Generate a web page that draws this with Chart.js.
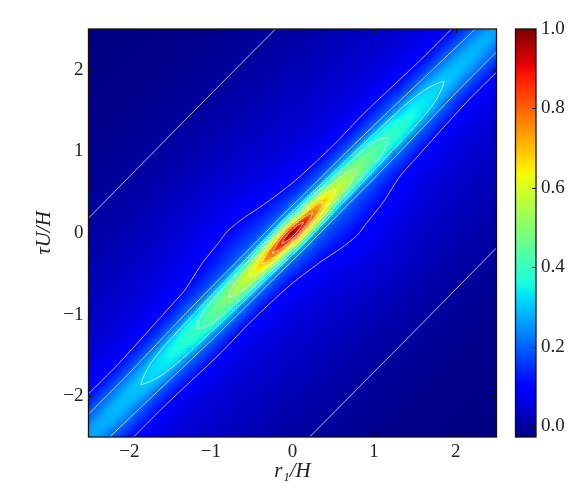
<!DOCTYPE html>
<html>
<head>
<meta charset="utf-8">
<title>Correlation map</title>
<script src="https://cdn.jsdelivr.net/npm/chart.js@4"></script>
<style>
    body { margin: 0; background: #fff; }
    #wrap { position: relative; width: 586px; height: 503px; }
    canvas { position: absolute; top: 0; }
    #mapChart { left: 0; }
    #barChart { left: 500px; }
</style>
</head>
<body>
<div id="wrap">
    <canvas id="mapChart" width="586" height="503"></canvas>
    <canvas id="barChart" width="86" height="503"></canvas>
</div>
<script>
const xTicks = [-2, -1, 0, 1, 2];
const yTicks = [-2, -1, 0, 1, 2];
const barTicks = [0, 0.2, 0.4, 0.6, 0.8, 1];
const valueMin = -0.027;
const valueMax = 1;

// Field read off the colours and contours, in ridge coordinates:
// along = (x + y) / 2, offset = y - x. The map is point symmetric, so only offset >= 0 is kept.
const alongStations = [-2.5, -1.86, -1.17, -0.785, -0.53, -0.38, -0.25, -0.135, 0, 0.135, 0.25, 0.38, 0.53, 0.785, 1.17, 1.86, 2.5];
const offsetStations = [0, 0.05, 0.1, 0.15, 0.2, 0.25, 0.3, 0.4, 0.5, 0.6, 0.7, 0.8, 1, 1.3, 1.7, 2.2, 2.7, 3.5, 5];
const fieldRows = [
    [0.27, 0.265, 0.255, 0.24, 0.22, 0.205, 0.187, 0.15, 0.117, 0.095, 0.08, 0.07, 0.052, 0.04, 0.028, 0.012, 0, -0.015, -0.027],
    [0.3, 0.298, 0.29, 0.27, 0.25, 0.225, 0.195, 0.155, 0.12, 0.09, 0.078, 0.068, 0.052, 0.04, 0.028, 0.012, 0, -0.015, -0.027],
    [0.4, 0.395, 0.38, 0.355, 0.315, 0.264, 0.218, 0.17, 0.133, 0.1, 0.085, 0.075, 0.058, 0.044, 0.03, 0.013, 0, -0.015, -0.027],
    [0.5, 0.49, 0.465, 0.425, 0.35, 0.285, 0.232, 0.175, 0.145, 0.125, 0.105, 0.09, 0.07, 0.05, 0.033, 0.014, 0, -0.015, -0.027],
    [0.6, 0.575, 0.54, 0.46, 0.385, 0.294, 0.235, 0.178, 0.155, 0.132, 0.113, 0.1, 0.08, 0.056, 0.036, 0.015, 0, -0.015, -0.027],
    [0.7, 0.65, 0.6, 0.51, 0.4, 0.3, 0.238, 0.18, 0.157, 0.135, 0.116, 0.102, 0.082, 0.058, 0.037, 0.015, 0, -0.015, -0.027],
    [0.8, 0.76, 0.66, 0.555, 0.445, 0.325, 0.247, 0.181, 0.157, 0.135, 0.116, 0.1, 0.08, 0.057, 0.037, 0.015, 0, -0.015, -0.027],
    [0.9, 0.83, 0.71, 0.585, 0.455, 0.335, 0.252, 0.182, 0.156, 0.132, 0.112, 0.096, 0.075, 0.054, 0.036, 0.015, 0, -0.015, -0.027],
    [1, 0.89, 0.76, 0.615, 0.475, 0.35, 0.26, 0.183, 0.155, 0.128, 0.1, 0.09, 0.07, 0.052, 0.035, 0.015, 0, -0.015, -0.027],
    [0.9, 0.83, 0.71, 0.585, 0.455, 0.335, 0.252, 0.178, 0.145, 0.118, 0.095, 0.083, 0.065, 0.05, 0.034, 0.015, 0, -0.015, -0.027],
    [0.8, 0.76, 0.66, 0.555, 0.445, 0.325, 0.247, 0.178, 0.14, 0.11, 0.09, 0.08, 0.063, 0.048, 0.033, 0.014, 0, -0.015, -0.027],
    [0.7, 0.65, 0.6, 0.51, 0.4, 0.3, 0.238, 0.175, 0.14, 0.105, 0.088, 0.078, 0.06, 0.046, 0.032, 0.014, 0, -0.015, -0.027],
    [0.6, 0.575, 0.54, 0.46, 0.385, 0.294, 0.235, 0.175, 0.14, 0.1, 0.085, 0.075, 0.058, 0.045, 0.031, 0.013, 0, -0.015, -0.027],
    [0.5, 0.49, 0.465, 0.425, 0.35, 0.285, 0.232, 0.171, 0.13, 0.095, 0.082, 0.072, 0.055, 0.043, 0.03, 0.013, 0, -0.015, -0.027],
    [0.4, 0.395, 0.38, 0.355, 0.315, 0.264, 0.218, 0.17, 0.133, 0.097, 0.082, 0.07, 0.053, 0.042, 0.029, 0.012, 0, -0.015, -0.027],
    [0.3, 0.298, 0.29, 0.27, 0.25, 0.225, 0.195, 0.155, 0.12, 0.09, 0.078, 0.068, 0.052, 0.04, 0.028, 0.012, 0, -0.015, -0.027],
    [0.27, 0.265, 0.255, 0.24, 0.22, 0.205, 0.187, 0.15, 0.117, 0.095, 0.08, 0.07, 0.052, 0.04, 0.028, 0.012, 0, -0.015, -0.027]
];

// Contours as [along, offset]
const contourZero = [[-1.3, 2.68], [0, 2.7], [1.3, 2.71]];
const contourTenth = [[-2.6, 0.56], [-2.2, 0.53], [-1.86, 0.53], [-1.17, 0.6], [-1.01, 0.62], [-0.74, 0.735], [-0.52, 0.785], [-0.38, 0.82], [-0.2, 0.78], [0, 0.7], [0.33, 0.61], [0.8, 0.575], [1.17, 0.59], [1.9, 0.55], [2.6, 0.56]];
const contourTwoTenths = [[-2.6, 0.28], [-2.36, 0.28], [-1.86, 0.285], [-1.17, 0.32], [-0.785, 0.33], [-0.53, 0.33], [-0.25, 0.335], [0, 0.34], [0.25, 0.335], [0.53, 0.33], [0.785, 0.33], [1.17, 0.32], [1.86, 0.285], [2.37, 0.26], [2.6, 0.26]];
// Closed contours: half widths for along >= 0, mirrored when drawn
const closedContours = [
    [[0, 0.27], [0.53, 0.245], [0.785, 0.235], [1.17, 0.21], [1.45, 0.19], [1.67, 0.14], [1.8, 0.06], [1.86, 0]],
    [[0, 0.23], [0.25, 0.22], [0.53, 0.19], [0.785, 0.165], [1.03, 0.13], [1.12, 0.07], [1.17, 0]],
    [[0, 0.19], [0.25, 0.175], [0.4, 0.15], [0.53, 0.125], [0.64, 0.1], [0.74, 0.05], [0.785, 0]],
    [[0, 0.155], [0.135, 0.145], [0.25, 0.13], [0.38, 0.1], [0.48, 0.06], [0.53, 0]],
    [[0, 0.12], [0.135, 0.105], [0.25, 0.08], [0.34, 0.04], [0.38, 0]],
    [[0, 0.085], [0.135, 0.065], [0.21, 0.03], [0.25, 0]],
    [[0, 0.045], [0.08, 0.03], [0.135, 0]]
];

const jetRed = [[0, 0], [0.35, 0], [0.66, 1], [0.89, 1], [1, 0.5]];
const jetGreen = [[0, 0], [0.125, 0], [0.375, 1], [0.64, 1], [0.91, 0], [1, 0]];
const jetBlue = [[0, 0.5], [0.11, 1], [0.34, 1], [0.65, 0], [1, 0]];

const cellSize = 0.025; // about 2px, like the blocks in the reference image
const tickFont = { family: '"Liberation Serif", serif', size: 19 };
const titleFont = { family: '"Liberation Serif", serif', size: 21, style: 'italic' };
const textColor = '#222';

function channel(stops, t) {
    for (let i = 1; i < stops.length; i++) {
        if (t <= stops[i][0]) {
            const f = (t - stops[i - 1][0]) / (stops[i][0] - stops[i - 1][0]);
            return stops[i - 1][1] + f * (stops[i][1] - stops[i - 1][1]);
        }
    }
    return stops[stops.length - 1][1];
}

function jetColor(t) {
    t = Math.max(0, Math.min(1, t));
    const r = Math.round(channel(jetRed, t) * 255);
    const g = Math.round(channel(jetGreen, t) * 255);
    const b = Math.round(channel(jetBlue, t) * 255);
    return 'rgb(' + r + ',' + g + ',' + b + ')';
}

function stationIndex(stations, v) {
    let i = 0;
    while (i < stations.length - 2 && v > stations[i + 1]) i++;
    return i;
}

// Looks up the table for one image cell
function fieldAt(x, y) {
    let along = (x + y) / 2;
    let offset = y - x;
    if (offset < 0) {
        along = -along;
        offset = -offset;
    }
    const i = stationIndex(alongStations, along);
    const j = stationIndex(offsetStations, offset);
    const u = (along - alongStations[i]) / (alongStations[i + 1] - alongStations[i]);
    const v = (offset - offsetStations[j]) / (offsetStations[j + 1] - offsetStations[j]);
    const a = fieldRows[i][j] + v * (fieldRows[i][j + 1] - fieldRows[i][j]);
    const b = fieldRows[i + 1][j] + v * (fieldRows[i + 1][j + 1] - fieldRows[i + 1][j]);
    return a + u * (b - a);
}

function toXY(p) {
    return { x: p[0] - p[1] / 2, y: p[0] + p[1] / 2 };
}

function reflect(p) {
    return [-p[0], -p[1]];
}

function lineDataset(points, tension) {
    return {
        data: points.map(toXY),
        showLine: true,
        borderColor: 'rgba(255,255,255,0.7)',
        borderWidth: 1,
        pointRadius: 0,
        tension: tension
    };
}

const datasets = [];
[contourZero, contourTenth, contourTwoTenths].forEach(c => {
    datasets.push(lineDataset(c, 0.25));
    datasets.push(lineDataset(c.map(reflect), 0.25));
});
closedContours.forEach(half => {
    const back = half.slice(1).map(p => [-p[0], p[1]]).reverse();
    const upper = back.concat(half);
    const lower = upper.slice(0, -1).map(reflect);
    datasets.push(lineDataset(upper.concat(lower, [upper[0]]), 0.25));
});

// Paints the heat map under the contours
const heatPlugin = {
    id: 'heat',
    beforeDatasetsDraw(chart) {
        const { ctx, chartArea, scales } = chart;
        ctx.save();
        ctx.beginPath();
        ctx.rect(chartArea.left, chartArea.top, chartArea.right - chartArea.left, chartArea.bottom - chartArea.top);
        ctx.clip();
        for (let x = scales.x.min; x < scales.x.max - 1e-6; x += cellSize) {
            const left = Math.round(scales.x.getPixelForValue(x));
            const right = Math.round(scales.x.getPixelForValue(x + cellSize));
            for (let y = scales.y.min; y < scales.y.max - 1e-6; y += cellSize) {
                const top = Math.round(scales.y.getPixelForValue(y + cellSize));
                const bottom = Math.round(scales.y.getPixelForValue(y));
                const value = fieldAt(x + cellSize / 2, y + cellSize / 2);
                ctx.fillStyle = jetColor((value - valueMin) / (valueMax - valueMin));
                ctx.fillRect(left, top, right - left, bottom - top);
            }
        }
        ctx.restore();
    }
};

// Inward ticks and the dark frame
const framePlugin = {
    id: 'frame',
    afterDraw(chart) {
        const { ctx, chartArea, scales } = chart;
        const a = chartArea;
        ctx.save();
        ctx.strokeStyle = '#111';
        ctx.lineWidth = 1;
        ctx.beginPath();
        if (scales.x && scales.x.options.display !== false) {
            scales.x.ticks.forEach(t => {
                const px = Math.round(scales.x.getPixelForValue(t.value)) + 0.5;
                ctx.moveTo(px, a.bottom);
                ctx.lineTo(px, a.bottom - 4);
                ctx.moveTo(px, a.top);
                ctx.lineTo(px, a.top + 4);
            });
        }
        scales.y.ticks.forEach(t => {
            const py = Math.round(scales.y.getPixelForValue(t.value)) + 0.5;
            if (chart.canvas.id === 'mapChart') {
                ctx.moveTo(a.left, py);
                ctx.lineTo(a.left + 4, py);
            }
            ctx.moveTo(a.right, py);
            ctx.lineTo(a.right - 4, py);
        });
        ctx.stroke();
        ctx.lineWidth = 1.3;
        ctx.strokeRect(a.left, a.top, a.right - a.left, a.bottom - a.top);
        ctx.restore();
    }
};

function tickText(v) {
    return String(v).replace('-', '\u2212');
}

new Chart(document.getElementById('mapChart'), {
    type: 'scatter',
    data: { datasets: datasets },
    plugins: [heatPlugin, framePlugin],
    options: {
        responsive: false,
        animation: false,
        events: [],
        layout: { padding: { left: 0, right: 89.5, top: 29, bottom: 0 } },
        plugins: { legend: { display: false }, tooltip: { enabled: false } },
        scales: {
            x: {
                type: 'linear',
                min: -2.5,
                max: 2.5,
                afterBuildTicks: scale => { scale.ticks = xTicks.map(v => ({ value: v })); },
                afterFit: scale => { scale.height = 66; },
                grid: { display: false, drawTicks: false },
                border: { display: false },
                ticks: { font: tickFont, color: textColor, padding: 4, maxRotation: 0, callback: tickText },
                title: { display: true, text: 'r\u2081/H', font: titleFont, color: textColor, padding: { top: 0, bottom: 19 } }
            },
            y: {
                type: 'linear',
                min: -2.5,
                max: 2.5,
                afterBuildTicks: scale => { scale.ticks = yTicks.map(v => ({ value: v })); },
                afterFit: scale => { scale.width = 88.5; },
                grid: { display: false, drawTicks: false },
                border: { display: false },
                ticks: { font: tickFont, color: textColor, padding: 5, callback: tickText },
                title: { display: true, text: '\u03c4U/H', font: titleFont, color: textColor, padding: { top: 32, bottom: 0 } }
            }
        }
    }
});

new Chart(document.getElementById('barChart'), {
    type: 'bar',
    data: {
        labels: [''],
        datasets: [{
            data: [[valueMin, valueMax]],
            barPercentage: 1,
            categoryPercentage: 1,
            backgroundColor: context => {
                const area = context.chart.chartArea;
                if (!area) return '#00f';
                const g = context.chart.ctx.createLinearGradient(0, area.bottom, 0, area.top);
                for (let i = 0; i <= 100; i++) g.addColorStop(i / 100, jetColor(i / 100));
                return g;
            }
        }]
    },
    plugins: [framePlugin],
    options: {
        responsive: false,
        animation: false,
        events: [],
        layout: { padding: { left: 15.5, right: 0, top: 29, bottom: 66 } },
        plugins: { legend: { display: false }, tooltip: { enabled: false } },
        scales: {
            x: { display: false },
            y: {
                position: 'right',
                min: valueMin,
                max: valueMax,
                afterBuildTicks: scale => { scale.ticks = barTicks.map(v => ({ value: v })); },
                afterFit: scale => { scale.width = 50; },
                grid: { display: false, drawTicks: false },
                border: { display: false },
                ticks: { font: tickFont, color: textColor, padding: 5, callback: v => v.toFixed(1) }
            }
        }
    }
});
</script>
</body>
</html>
